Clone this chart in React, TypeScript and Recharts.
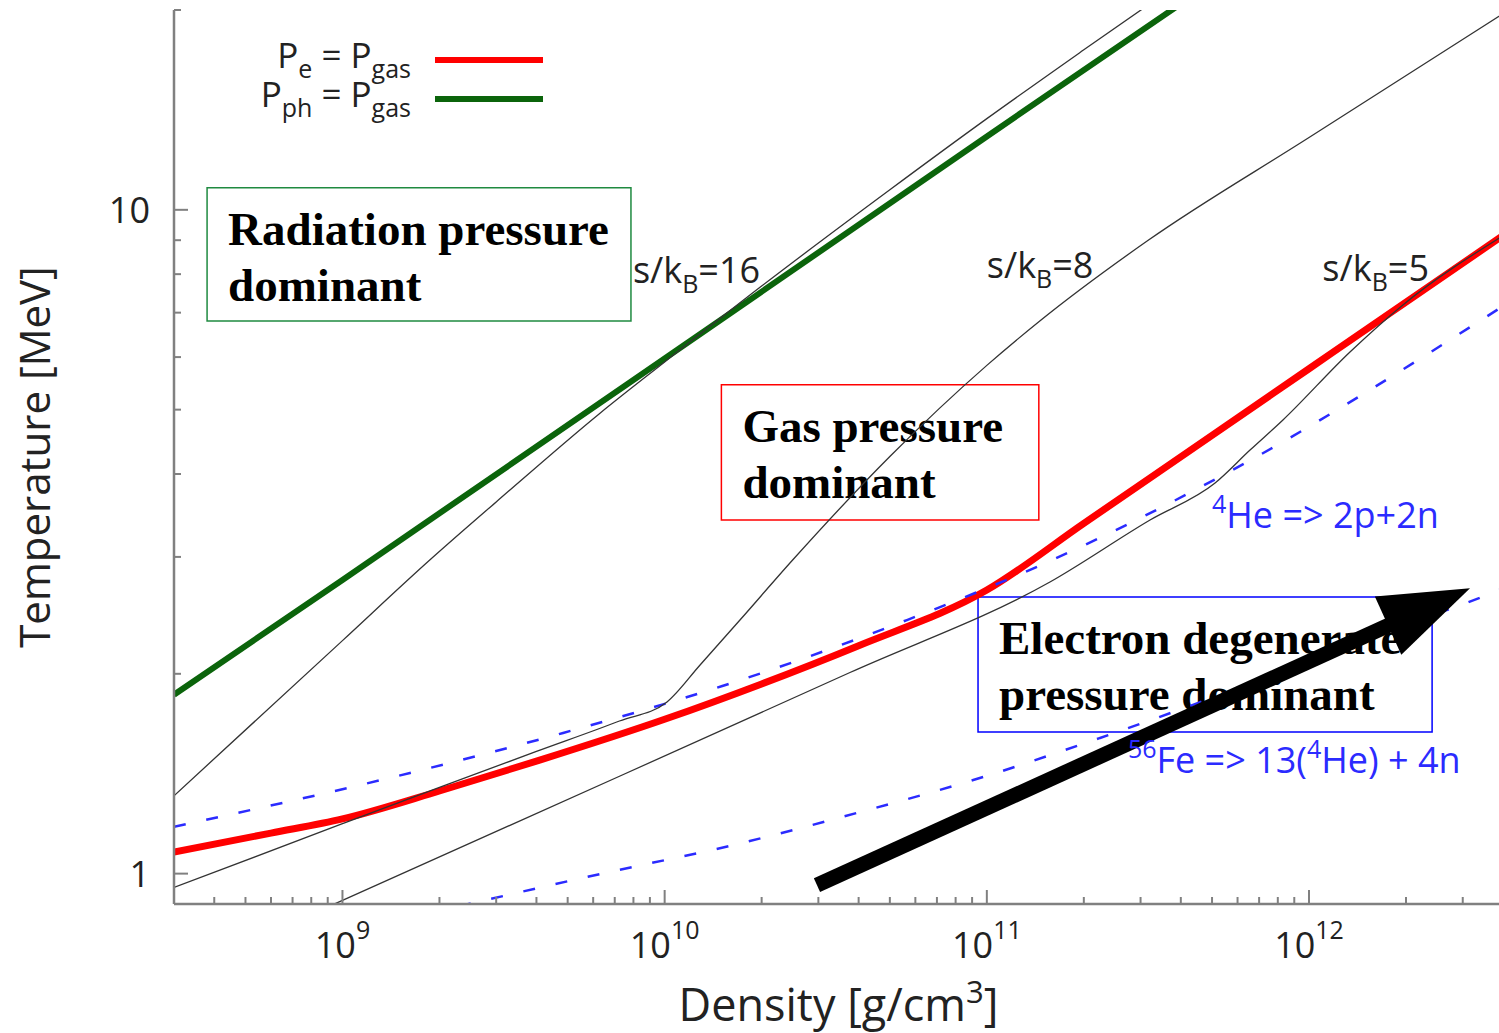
import React from "react";
import { LineChart, Line, XAxis, YAxis, ReferenceArea, ReferenceDot, ReferenceLine, Legend } from "recharts";

// density [g/cm^3] vs temperature [MeV]
const peEqGas: [number, number][] = [
  [3e8, 1.078], [6e8, 1.151], [1e9, 1.209], [2e9, 1.332], [4e9, 1.477], [1e10, 1.708],
  [2e10, 1.931], [4e10, 2.205], [1e11, 2.674], [2e11, 3.37], [5e11, 4.573],
  [1e12, 5.762], [2e12, 7.26], [4e12, 9.146],
];
const phEqGas: [number, number][] = [
  [3e8, 1.86], [1e9, 2.77], [1e10, 5.97], [1e11, 12.9], [1e12, 27.7],
];
const heDissoc: [number, number][] = [
  [3e8, 1.176], [1.62e9, 1.418], [4.84e9, 1.629], [1.51e10, 1.917], [5.65e10, 2.41],
  [1.6e11, 2.97], [5.81e11, 4.06], [4e12, 7.16],
];
const feDissoc: [number, number][] = [
  [2.3e9, 0.893], [6.3e9, 0.9986], [1.63e10, 1.104], [4.04e10, 1.238], [9.73e10, 1.398],
  [2.245e11, 1.601], [6.56e11, 1.931], [1.915e12, 2.352], [3.886e12, 2.674], [4e12, 2.69],
];
const s16: [number, number][] = [
  [3e8, 1.31], [1e9, 2.244], [1.87e9, 2.97], [3e9, 3.63], [6.3e9, 4.94], [1e10, 5.9],
  [2e10, 7.675], [5e10, 10.72], [1e11, 13.72], [2e11, 17.42], [5e11, 23.75], [1e12, 29.95],
];
const s8: [number, number][] = [
  [3e8, 0.953], [1e9, 1.189], [2e9, 1.349], [4e9, 1.528], [7.24e9, 1.698], [1.017e10, 1.814],
  [1.288e10, 2.062], [1.713e10, 2.41], [2.5e10, 2.97], [5e10, 4.25], [1e11, 5.83],
  [1.46e11, 6.8], [3.16e11, 8.99], [1e12, 12.85], [4e12, 19.75],
];
const s5: [number, number][] = [
  [9.3e8, 0.897], [7.27e9, 1.403], [3.76e10, 2.009], [1.57e11, 2.75], [3.21e11, 3.41],
  [5.11e11, 3.877], [6.56e11, 4.346], [8.3e11, 4.824], [1.34e12, 6.107], [1.956e12, 7.19],
  [4e12, 9.14],
];

const xDecades = [1e8, 1e9, 1e10, 1e11, 1e12];
const tickMantissas = [1, 2, 3, 4, 5, 6, 7, 8, 9];
const yTicks = [1, 2, 3, 4, 5, 6, 7, 8, 9, 10, 20];
const xDomain: [number, number] = [3e8, 4e12];
const yDomain: [number, number] = [0.9, 20];
const xTicks = xDecades
  .flatMap((d) => tickMantissas.map((m) => d * m))
  .filter((v) => v >= xDomain[0] && v <= xDomain[1]);

// annotation boxes, in data units
const regionBoxes = [
  { x1: 3.8e8, x2: 7.86e9, y1: 6.8, y2: 10.8, color: "#1f8a40", lines: ["Radiation pressure", "dominant"] },
  { x1: 1.5e10, x2: 1.45e11, y1: 3.41, y2: 5.45, color: "#ff0000", lines: ["Gas pressure", "dominant"] },
  { x1: 9.39e10, x2: 2.41e12, y1: 1.635, y2: 2.61, color: "#0000ff", lines: ["Electron degenerate", "pressure dominant"] },
];
const curveLabels = [
  { x: 7.97e9, y: 7.76, text: "s/k_{B}=16", color: "#222", size: 36 },
  { x: 1.0e11, y: 7.89, text: "s/k_{B}=8", color: "#222", size: 36 },
  { x: 1.1e12, y: 7.81, text: "s/k_{B}=5", color: "#222", size: 36 },
  { x: 5.0e11, y: 3.32, text: "^{4}He => 2p+2n", color: "#2b2bff", size: 36 },
  { x: 2.74e11, y: 1.42, text: "^{56}Fe => 13(^{4}He) + 4n", color: "#2b2bff", size: 36 },
];
const arrowFrom = { x: 2.97e10, y: 0.961 };
const arrowTo = { x: 3.16e12, y: 2.69 };

const SANS = "'Open Sans', 'DejaVu Sans', sans-serif";
const SERIF = "'Liberation Serif', 'Times New Roman', serif";
const axisColor = "#808080";

const pts = (pairs: [number, number][]) => pairs.map(([x, y]) => ({ x, y }));

function tokens(s: string) {
  const out: { t: string; k: string }[] = [];
  const re = /([_^])\{([^}]*)\}/g;
  let last = 0;
  let m: RegExpExecArray | null;
  while ((m = re.exec(s))) {
    if (m.index > last) out.push({ t: s.slice(last, m.index), k: "n" });
    out.push({ t: m[2], k: m[1] === "_" ? "sub" : "sup" });
    last = re.lastIndex;
  }
  if (last < s.length) out.push({ t: s.slice(last), k: "n" });
  return out;
}

function rich(s: string, size: number) {
  const small = Math.round(size * 0.7);
  let cur = 0;
  return tokens(s).map((tk, i) => {
    const target = tk.k === "sub" ? size * 0.28 : tk.k === "sup" ? -size * 0.4 : 0;
    const dy = target - cur;
    cur = target;
    return (
      <tspan key={i} dy={dy} fontSize={tk.k === "n" ? size : small}>
        {tk.t}
      </tspan>
    );
  });
}

const isMajor = (v: number) => {
  const l = Math.log10(v);
  return Math.abs(l - Math.round(l)) < 1e-6;
};

function XTick(props: any) {
  const { x, y, payload, side } = props;
  const v = payload.value;
  const major = isMajor(v);
  const len = major ? 14 : 7;
  const dir = side === "top" ? 1 : -1;
  return (
    <g>
      <line x1={x} x2={x} y1={y} y2={y + dir * len} stroke={axisColor} strokeWidth={2} />
      {side === "bottom" && major && (
        <text x={x} y={y + 54} textAnchor="middle" fontFamily={SANS} fontSize={36} fill="#222">
          10
          <tspan dy={-19} fontSize={25}>
            {Math.round(Math.log10(v))}
          </tspan>
        </text>
      )}
    </g>
  );
}

function YTick(props: any) {
  const { x, y, payload, side } = props;
  const v = payload.value;
  const major = isMajor(v);
  const len = major ? 14 : 7;
  const dir = side === "left" ? 1 : -1;
  return (
    <g>
      <line x1={x} x2={x + dir * len} y1={y} y2={y} stroke={axisColor} strokeWidth={2} />
      {side === "left" && major && (
        <text x={x - 24} y={y + 13} textAnchor="end" fontFamily={SANS} fontSize={36} fill="#222">
          {String(v)}
        </text>
      )}
    </g>
  );
}

function ArrowShape(props: any) {
  const { x1, y1, x2, y2 } = props;
  const dx = x2 - x1;
  const dy = y2 - y1;
  const len = Math.hypot(dx, dy);
  const ux = dx / len;
  const uy = dy / len;
  const headLen = 90;
  const half = 32;
  const bx = x2 - ux * headLen;
  const by = y2 - uy * headLen;
  return (
    <g>
      <line x1={x1} y1={y1} x2={bx + ux * 4} y2={by + uy * 4} stroke="#000" strokeWidth={15} />
      <polygon
        points={`${x2},${y2} ${bx - uy * half},${by + ux * half} ${bx + uy * half},${by - ux * half}`}
        fill="#000"
      />
    </g>
  );
}

function LegendContent(props: any) {
  const items = (props.payload || []).filter((p: any) => p.type !== "none");
  return (
    <svg width={560} height={130} style={{ display: "block" }}>
      {items.map((it: any, i: number) => {
        const y = 60 + i * 39;
        return (
          <g key={i}>
            <text x={411} y={y + 8} textAnchor="end" fontFamily={SANS} fill="#222" style={{ whiteSpace: "pre" }}>
              {rich(it.value, 35)}
            </text>
            <line x1={435} x2={543} y1={y} y2={y} stroke={it.color} strokeWidth={6} />
          </g>
        );
      })}
    </svg>
  );
}

export default function App() {
  return (
    <div style={{ position: "absolute", left: 0, top: 0, width: 1499, height: 1033, overflow: "hidden", background: "#fff" }}>
      <LineChart width={1510} height={1033} margin={{ top: 10, right: 7, bottom: 0, left: 0 }}>
        <XAxis
          dataKey="x"
          type="number"
          scale="log"
          domain={xDomain}
          allowDataOverflow
          ticks={xTicks}
          interval={0}
          height={129}
          tickSize={0}
          tickMargin={0}
          tickLine={false}
          axisLine={{ stroke: axisColor, strokeWidth: 2.5 }}
          tick={(p: any) => <XTick {...p} side="bottom" />}
          label={{
            content: (p: any) => {
              const vb = p.viewBox;
              return (
                <text x={vb.x + vb.width / 2} y={vb.y + 117} textAnchor="middle" fontFamily={SANS} fill="#222">
                  {rich("Density [g/cm^{3}]", 45)}
                </text>
              );
            },
          }}
        />
        <XAxis
          xAxisId="top"
          orientation="top"
          dataKey="x"
          type="number"
          scale="log"
          domain={xDomain}
          allowDataOverflow
          ticks={xTicks}
          interval={0}
          height={0}
          tickSize={0}
          tickMargin={0}
          tickLine={false}
          axisLine={{ stroke: axisColor, strokeWidth: 2.5 }}
          tick={(p: any) => <XTick {...p} side="top" />}
        />
        <YAxis
          type="number"
          scale="log"
          domain={yDomain}
          allowDataOverflow
          ticks={yTicks}
          interval={0}
          width={174}
          tickSize={0}
          tickMargin={0}
          tickLine={false}
          axisLine={{ stroke: axisColor, strokeWidth: 2.5 }}
          tick={(p: any) => <YTick {...p} side="left" />}
          label={{
            content: (p: any) => {
              const vb = p.viewBox;
              const cx = vb.x + 50;
              const cy = vb.y + vb.height / 2;
              return (
                <text x={cx} y={cy} transform={`rotate(-90 ${cx} ${cy})`} textAnchor="middle" fontFamily={SANS} fontSize={42} fill="#222">
                  Temperature [MeV]
                </text>
              );
            },
          }}
        />
        <YAxis
          yAxisId="right"
          orientation="right"
          type="number"
          scale="log"
          domain={yDomain}
          allowDataOverflow
          ticks={yTicks}
          interval={0}
          width={0}
          tickSize={0}
          tickMargin={0}
          tickLine={false}
          axisLine={{ stroke: axisColor, strokeWidth: 2.5 }}
          tick={(p: any) => <YTick {...p} side="right" />}
        />
        <Legend
          layout="horizontal"
          verticalAlign="middle"
          content={<LegendContent />}
          wrapperStyle={{ position: "absolute", left: 0, top: 0, width: 560, height: 130 }}
        />

        <Line data={pts(peEqGas)} dataKey="y" name="P_{e} = P_{gas}" type="monotone" stroke="#ff0000" strokeWidth={7} dot={false} isAnimationActive={false} />
        <Line data={pts(phEqGas)} dataKey="y" name="P_{ph} = P_{gas}" type="linear" stroke="#0b640b" strokeWidth={6} dot={false} isAnimationActive={false} />
        <Line data={pts(heDissoc)} dataKey="y" name="He" legendType="none" type="monotone" stroke="#2b2bff" strokeWidth={2.5} strokeDasharray="12 21" dot={false} isAnimationActive={false} />
        <Line data={pts(feDissoc)} dataKey="y" name="Fe" legendType="none" type="monotone" stroke="#2b2bff" strokeWidth={2.5} strokeDasharray="12 21" dot={false} isAnimationActive={false} />
        <Line data={pts(s16)} dataKey="y" name="s16" legendType="none" type="monotone" stroke="#333" strokeWidth={1.3} dot={false} isAnimationActive={false} />
        <Line data={pts(s8)} dataKey="y" name="s8" legendType="none" type="monotone" stroke="#333" strokeWidth={1.3} dot={false} isAnimationActive={false} />
        <Line data={pts(s5)} dataKey="y" name="s5" legendType="none" type="monotone" stroke="#333" strokeWidth={1.3} dot={false} isAnimationActive={false} />

        {regionBoxes.map((b, i) => (
          <ReferenceArea
            key={`box-${i}`}
            x1={b.x1}
            x2={b.x2}
            y1={b.y1}
            y2={b.y2}
            stroke={b.color}
            strokeWidth={1.5}
            fill="none"
            fillOpacity={0}
            ifOverflow="visible"
            label={{
              content: (p: any) => {
                const vb = p.viewBox;
                return (
                  <text fontFamily={SERIF} fontWeight="bold" fontSize={47} fill="#000">
                    {b.lines.map((ln, j) => (
                      <tspan key={j} x={vb.x + 21} y={vb.y + 57 + j * 56}>
                        {ln}
                      </tspan>
                    ))}
                  </text>
                );
              },
            }}
          />
        ))}

        {curveLabels.map((c, i) => (
          <ReferenceDot
            key={`lbl-${i}`}
            x={c.x}
            y={c.y}
            r={0}
            fill="none"
            stroke="none"
            ifOverflow="visible"
            label={{
              content: (p: any) => {
                const vb = p.viewBox;
                return (
                  <text x={vb.x} y={vb.y} fontFamily={SANS} fill={c.color} style={{ whiteSpace: "pre" }}>
                    {rich(c.text, c.size)}
                  </text>
                );
              },
            }}
          />
        ))}

        <ReferenceLine
          segment={[arrowFrom, arrowTo]}
          ifOverflow="visible"
          stroke="#000"
          shape={(p: any) => <ArrowShape {...p} />}
        />
      </LineChart>
    </div>
  );
}
